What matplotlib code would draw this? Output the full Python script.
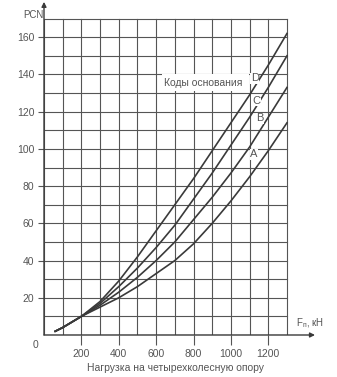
import numpy as np
import matplotlib.pyplot as plt
from matplotlib.patches import Rectangle

plt.rcParams['font.family'] = ['Liberation Sans', 'DejaVu Sans']

# load on the four-wheel gear, kN
load = [60, 100, 150, 200, 300, 400, 500, 600, 700, 800, 900, 1000, 1100, 1200, 1300]

# PCN for each subgrade code
pcn_A = [2, 4, 7, 10, 15, 20, 26, 33, 40, 49, 60, 72, 85, 99, 114]
pcn_B = [2, 4, 7, 10, 16, 23, 31, 40, 50, 62, 74, 87, 101, 117, 133]
pcn_C = [2, 4, 7, 10, 17, 26, 36, 47, 59, 73, 87, 102, 117, 133, 150]
pcn_D = [2, 4, 7, 10, 18, 29, 42, 56, 70, 84, 99, 114, 129, 145, 162]

codes = ['A', 'B', 'C', 'D']
code_pos = [(1123, 97), (1155, 116.5), (1134, 126), (1128, 138)]

x_ticks = [200, 400, 600, 800, 1000, 1200]
y_ticks = [20, 40, 60, 80, 100, 120, 140, 160]

txt = '#555555'
ln = '#3a3a3a'
grid = '#555555'

fig = plt.figure(figsize=(3.37, 3.77), dpi=100)
ax = fig.add_axes([44/337, 42/377, 271/337, 335/377])
ax.set_xlim(0, 1450)
ax.set_ylim(0, 180)
for s in ax.spines.values():
    s.set_visible(False)

# grid: 100 kN by 10 PCN
for xv in range(0, 1301, 100):
    ax.plot([xv, xv], [0, 170], color=grid, lw=0.8, zorder=1)
for yv in range(0, 171, 10):
    ax.plot([0, 1300], [yv, yv], color=grid, lw=0.8, zorder=1)

# axes with arrows
ax.annotate('', xy=(1450, 0), xytext=(0, 0),
            arrowprops=dict(arrowstyle='-|>', color=ln, lw=1.0,
                            mutation_scale=7, shrinkA=0, shrinkB=0))
ax.annotate('', xy=(0, 179), xytext=(0, 0),
            arrowprops=dict(arrowstyle='-|>', color=ln, lw=1.0,
                            mutation_scale=7, shrinkA=0, shrinkB=0))

for series in (pcn_A, pcn_B, pcn_C, pcn_D):
    ax.plot(load, series, color=ln, lw=1.2, zorder=3)

# legend box
ax.add_patch(Rectangle((630, 131), 465, 9, facecolor='white', edgecolor='none', zorder=2))
ax.text(850, 135.5, 'Коды основания', fontsize=7.5, color=txt,
        ha='center', va='center', zorder=4)
for c, (cx, cy) in zip(codes, code_pos):
    ax.text(cx, cy, c, fontsize=8, color=txt, ha='center', va='center', zorder=4,
            bbox=dict(facecolor='white', edgecolor='none', pad=0.5))

ax.set_xticks(x_ticks)
ax.set_xticklabels([str(v) for v in x_ticks])
ax.set_yticks(y_ticks)
ax.set_yticklabels([str(v) for v in y_ticks])
ax.tick_params(axis='x', length=7, width=0.8, color=grid, pad=3,
               labelsize=7.5, labelcolor=txt)
ax.tick_params(axis='y', length=4, width=0.8, color=grid, pad=3,
               labelsize=7.5, labelcolor=txt)

ax.text(-48, -5.5, '0', fontsize=7.5, color=txt, ha='center', va='center', clip_on=False)
ax.text(-5, 172, 'PCN', fontsize=7, color=txt, ha='right', va='center', clip_on=False)
ax.text(1350, 6.5, r'F$_{\mathregular{п}}$, кН', fontsize=7, color=txt,
        ha='left', va='center', clip_on=False)

fig.text(175/337, 9/377, 'Нагрузка на четырехколесную опору', fontsize=7.5,
         color=txt, ha='center', va='center')

fig.savefig('out.png', dpi=100)
